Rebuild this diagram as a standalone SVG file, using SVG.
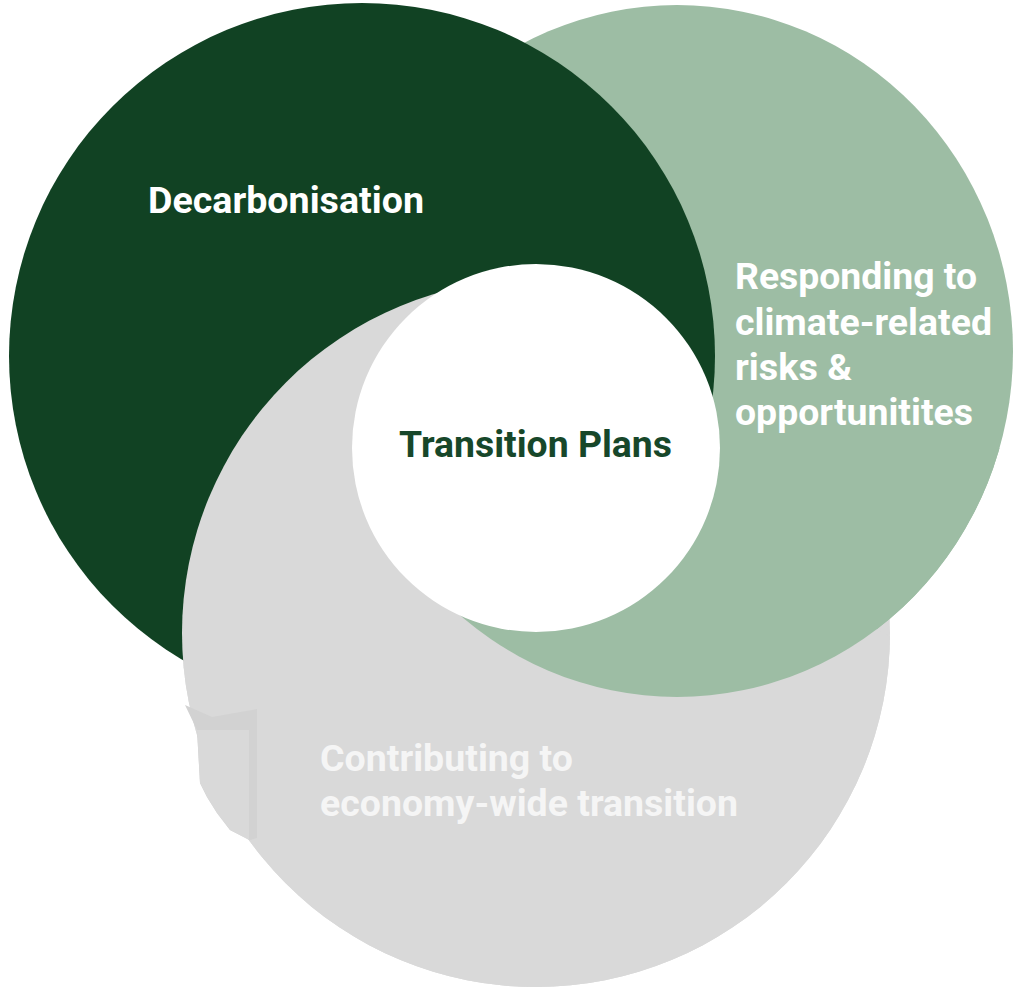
<svg xmlns="http://www.w3.org/2000/svg" xmlns:xlink="http://www.w3.org/1999/xlink" width="1015" height="991" viewBox="0 0 1015 991">
  <style>
    .dark { fill: #114223; }
    .light { fill: #9dbda4; }
    .grey { fill: #d9d9d9; }
    .label { font-family: Roboto, "Liberation Sans", Arial, sans-serif; font-weight: 700; font-size: 37px; }
    .on-green { fill: #ffffff; }
    .on-grey { fill: #f5f5f5; }
    .centre-text { fill: #17472a; }
  </style>
  <defs>
    <circle id="shape-dark" cx="362" cy="356" r="353"/>
    <ellipse id="shape-light" cx="677" cy="351" rx="336" ry="346"/>
    <circle id="shape-grey" cx="536" cy="633" r="354"/>
    <!-- wedge around the hub where the grey disc sits above the dark one -->
    <clipPath id="wedge-grey-up">
      <path d="M536,448 L1860,1152 L536,1948 L-964,448 L536,-1052 Z"/>
    </clipPath>
    <!-- wedge below the hub where the light disc sits above both others -->
    <clipPath id="wedge-light-up">
      <path d="M536,448 L2036,448 L536,1948 L-763,1198 Z"/>
    </clipPath>
  </defs>

  <rect width="1015" height="991" fill="#ffffff"/>

  <!-- interlocking discs: base stack, then the two swirl overlays -->
  <g id="discs">
    <g id="disc-contributing"><use xlink:href="#shape-grey" class="grey"/></g>
    <g id="disc-responding"><use xlink:href="#shape-light" class="light"/></g>
    <g id="disc-decarbonisation"><use xlink:href="#shape-dark" class="dark"/></g>
    <g id="disc-overlaps">
      <use xlink:href="#shape-grey" class="grey" clip-path="url(#wedge-grey-up)"/>
      <use xlink:href="#shape-light" class="light" clip-path="url(#wedge-light-up)"/>
    </g>
  </g>

  <!-- pale patch on the lower left edge of the grey disc -->
  <g id="patch">
    <path d="M185,705 L212,717 L257,709 L257,838 L250,840 L230,830 L217,813 L207,797 L200,783 L197,730 Z" fill="#d2d2d2"/>
    <path d="M197,730 L249,730 L249,840 L230,830 L217,813 L207,797 L200,783 Z" fill="#d9d9d9"/>
  </g>

  <g id="node-decarbonisation">
    <text class="label on-green" x="148" y="213" textLength="276" lengthAdjust="spacingAndGlyphs">Decarbonisation</text>
  </g>

  <g id="node-responding">
    <text class="label on-green" x="735" y="289" textLength="242" lengthAdjust="spacingAndGlyphs">Responding to</text>
    <text class="label on-green" x="735" y="335" textLength="257" lengthAdjust="spacingAndGlyphs">climate-related</text>
    <text class="label on-green" x="735" y="380" textLength="117" lengthAdjust="spacingAndGlyphs">risks &amp;</text>
    <text class="label on-green" x="735" y="425" textLength="238" lengthAdjust="spacingAndGlyphs">opportunitites</text>
  </g>

  <g id="node-contributing">
    <text class="label on-grey" x="320" y="771" textLength="253" lengthAdjust="spacingAndGlyphs">Contributing to</text>
    <text class="label on-grey" x="320" y="816" textLength="418" lengthAdjust="spacingAndGlyphs">economy-wide transition</text>
  </g>

  <g id="node-transition-plans">
    <circle cx="536" cy="448" r="184" fill="#ffffff"/>
    <text class="label centre-text" x="399" y="457" textLength="273" lengthAdjust="spacingAndGlyphs">Transition Plans</text>
  </g>
</svg>
